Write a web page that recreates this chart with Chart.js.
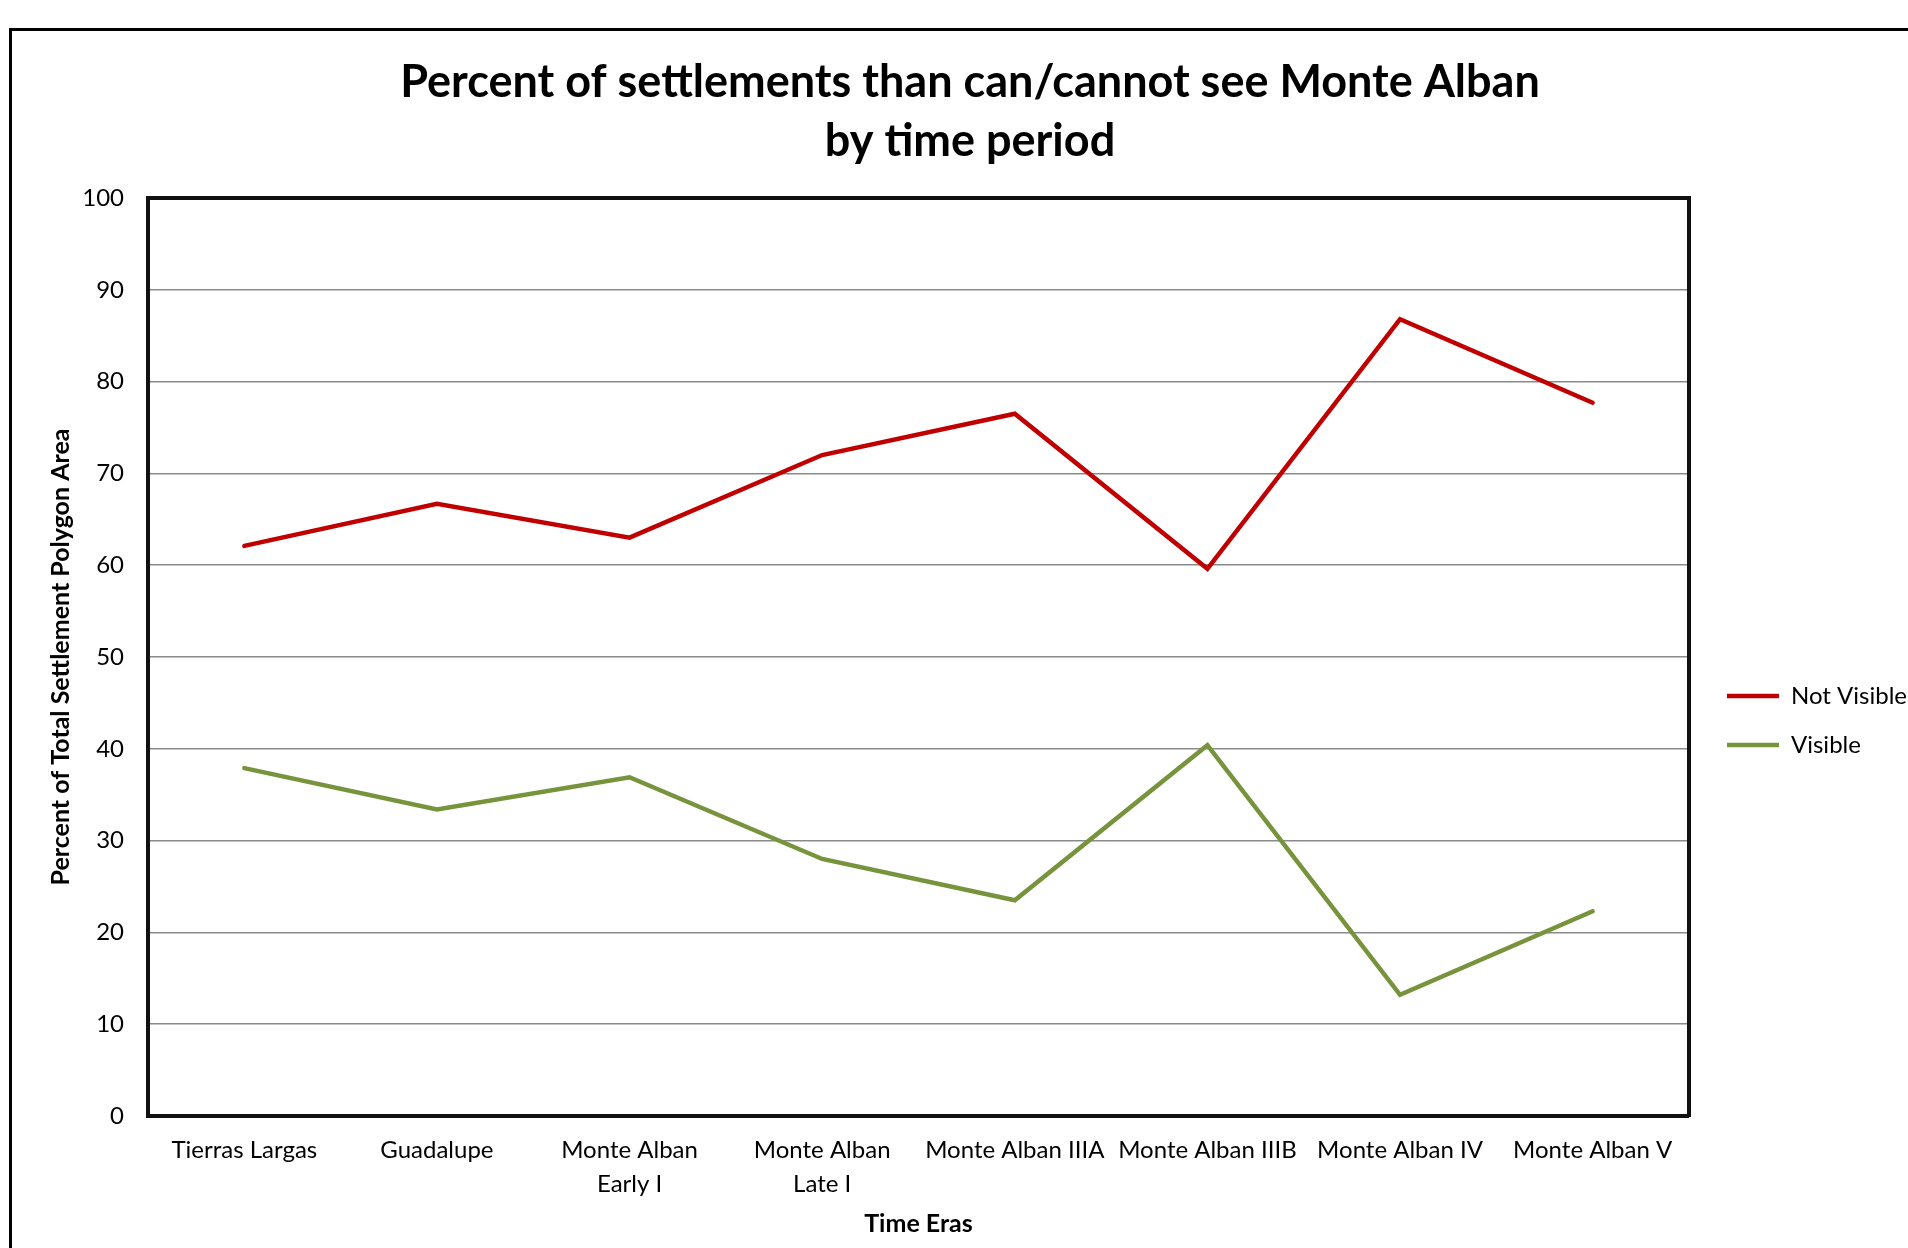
<!DOCTYPE html>
<html>
<head>
<meta charset="utf-8">
<script src="https://cdn.jsdelivr.net/npm/chart.js@4"></script>
<style>
  html, body { margin: 0; padding: 0; background: #fff; overflow: hidden; }
  #frame { position: absolute; left: 9px; top: 28px; width: 2000px; height: 2000px; border: 3px solid #000; }
  #wrap { position: absolute; left: 0; top: 0; width: 1908px; height: 1248px; }
</style>
</head>
<body>
<div id="frame"></div>
<div id="wrap"><canvas id="chart"></canvas></div>
<script>
var categories = [
    'Tierras Largas',
    'Guadalupe',
    ['Monte Alban', 'Early I'],
    ['Monte Alban', 'Late I'],
    'Monte Alban IIIA',
    'Monte Alban IIIB',
    'Monte Alban IV',
    'Monte Alban V'
];
var notVisible = [62.1, 66.7, 63.0, 72.0, 76.5, 59.6, 86.8, 77.7];
var visible = [37.9, 33.4, 36.9, 28.0, 23.5, 40.4, 13.2, 22.3];

var titleLines = ['Percent of settlements than can/cannot see Monte Alban', 'by time period'];
var yTitle = 'Percent of Total Settlement Polygon Area';
var xTitle = 'Time Eras';

var fontFamily = 'Lato, "Open Sans", sans-serif';

function lineSet(label, data, color) {
    return {
        label: label,
        data: data,
        borderColor: color,
        backgroundColor: color,
        borderWidth: 4.5,
        borderCapStyle: 'round',
        borderJoinStyle: 'miter',
        tension: 0,
        pointRadius: 0,
        pointHoverRadius: 0,
        fill: false
    };
}

var ctx = document.getElementById('chart').getContext('2d');

var myChart = new Chart(ctx, {
    type: 'line',
    data: {
        labels: categories,
        datasets: [
            lineSet('Not Visible', notVisible, '#C00000'),
            lineSet('Visible', visible, '#77933C')
        ]
    },
    options: {
        responsive: true,
        maintainAspectRatio: false,
        animation: false,
        layout: {
            padding: { left: 23, right: -9, top: 0, bottom: 9 }
        },
        plugins: {
            title: {
                display: true,
                text: titleLines,
                color: '#000',
                font: { family: fontFamily, size: 45, weight: 'bold', lineHeight: 59 / 45 },
                padding: { top: 53, bottom: 27 }
            },
            legend: {
                position: 'right',
                align: 'start',
                title: {
                    display: true,
                    text: '',
                    padding: { top: 0, bottom: 644.6 }
                },
                labels: {
                    usePointStyle: true,
                    pointStyle: 'line',
                    pointStyleWidth: 52,
                    padding: 25,
                    color: '#000',
                    font: { family: fontFamily, size: 24 }
                }
            },
            tooltip: { enabled: false }
        },
        scales: {
            x: {
                type: 'category',
                offset: true,
                grid: { display: false, drawTicks: false },
                border: { display: true, color: '#111', width: 4 },
                ticks: {
                    color: '#000',
                    padding: 17,
                    maxRotation: 0,
                    autoSkip: false,
                    font: { family: fontFamily, size: 24, lineHeight: 34 / 24 }
                },
                title: {
                    display: true,
                    text: xTitle,
                    color: '#000',
                    padding: 0,
                    font: { family: fontFamily, size: 25, weight: 'bold' }
                },
                afterFit: function(scale) { scale.height = 123; }
            },
            x2: {
                type: 'category',
                position: 'top',
                offset: true,
                grid: { display: false, drawTicks: false },
                border: { display: true, color: '#111', width: 4 },
                ticks: { display: false },
                afterFit: function(scale) { scale.height = 0; }
            },
            y: {
                min: 0,
                max: 100,
                ticks: {
                    stepSize: 10,
                    color: '#000',
                    padding: 24,
                    font: { family: fontFamily, size: 24 }
                },
                grid: { color: '#8a8a8a', lineWidth: 1.5, drawTicks: false },
                border: { display: true, color: '#111', width: 4 },
                title: {
                    display: true,
                    text: yTitle,
                    color: '#000',
                    padding: { top: 23, bottom: 0 },
                    font: { family: fontFamily, size: 25, weight: 'bold' }
                },
                afterFit: function(scale) { scale.width = 148 - 23; }
            },
            y2: {
                position: 'right',
                min: 0,
                max: 100,
                grid: { display: false, drawTicks: false },
                border: { display: true, color: '#111', width: 4 },
                ticks: { display: false },
                afterFit: function(scale) { scale.width = 13; }
            }
        }
    }
});
</script>
</body>
</html>
